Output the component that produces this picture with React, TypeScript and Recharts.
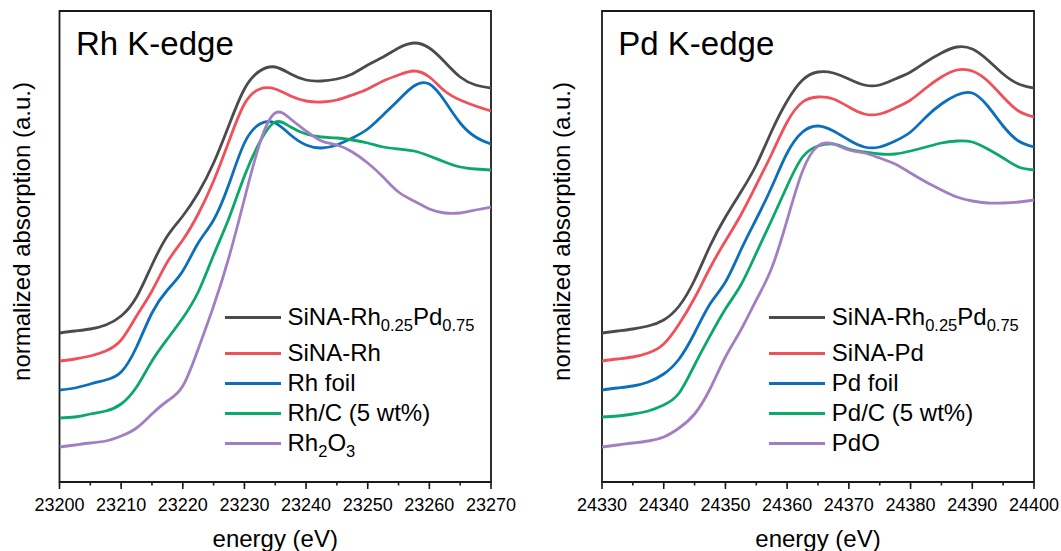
import { Legend, Line, LineChart, ReferenceArea, XAxis, YAxis } from "recharts";

const FONT = '"Liberation Sans", Arial, Helvetica, sans-serif';

// Rh K-edge panel
const rhEnergy = [
  23200, 23202.5, 23205, 23207.5, 23210, 23212.5, 23215, 23217.5, 23220, 23222.5, 23225, 23227.5, 23230, 23232.5, 23235,
  23237.5, 23240, 23242.5, 23245, 23247.5, 23250, 23252.5, 23255, 23257.5, 23260, 23262.5, 23265, 23267.5, 23270,
];
const rhSinaRhPd = [
  1.49, 1.51, 1.53, 1.57, 1.66, 1.85, 2.17, 2.46, 2.66, 2.89, 3.19, 3.57, 3.93, 4.11, 4.15, 4.08, 4.02, 4.01, 4.03, 4.08,
  4.17, 4.25, 4.34, 4.39, 4.34, 4.2, 4.05, 3.97, 3.94,
];
const rhSinaRh = [
  1.21, 1.23, 1.26, 1.31, 1.42, 1.66, 1.91, 2.2, 2.42, 2.68, 3.01, 3.41, 3.78, 3.93, 3.93, 3.86, 3.81, 3.8, 3.82, 3.87,
  3.93, 4.01, 4.07, 4.11, 4.05, 3.91, 3.82, 3.76, 3.71,
];
const rhFoil = [
  0.92, 0.94, 0.98, 1.02, 1.1, 1.35, 1.69, 1.92, 2.11, 2.39, 2.62, 2.98, 3.39, 3.58, 3.59, 3.47, 3.37, 3.34, 3.37, 3.44,
  3.53, 3.67, 3.82, 3.96, 3.98, 3.81, 3.59, 3.45, 3.38,
];
const rhOnCarbon = [
  0.64, 0.65, 0.68, 0.71, 0.78, 0.95, 1.21, 1.43, 1.64, 1.9, 2.27, 2.64, 3.06, 3.4, 3.6, 3.55, 3.48, 3.45, 3.44, 3.42,
  3.39, 3.35, 3.33, 3.31, 3.26, 3.2, 3.15, 3.13, 3.12,
];
const rhOxide = [
  0.35, 0.37, 0.39, 0.41, 0.46, 0.54, 0.68, 0.81, 0.96, 1.33, 1.76, 2.25, 2.83, 3.39, 3.69, 3.63, 3.51, 3.41, 3.37, 3.3,
  3.19, 3.05, 2.9, 2.81, 2.73, 2.69, 2.69, 2.72, 2.75,
];
const rhTicks = [23200, 23205, 23210, 23215, 23220, 23225, 23230, 23235, 23240, 23245, 23250, 23255, 23260, 23265, 23270];

// Pd K-edge panel
const pdEnergy = [
  24330, 24332.5, 24335, 24337.5, 24340, 24342.5, 24345, 24347.5, 24350, 24352.5, 24355, 24357.5, 24360, 24362.5, 24365,
  24367.5, 24370, 24372.5, 24375, 24377.5, 24380, 24382.5, 24385, 24387.5, 24390, 24392.5, 24395, 24397.5, 24400,
];
const pdSinaRhPd = [
  1.49, 1.51, 1.53, 1.56, 1.62, 1.76, 2.02, 2.36, 2.65, 2.9, 3.17, 3.51, 3.81, 4.02, 4.1, 4.09, 4.03, 3.97, 3.97, 4.03,
  4.1, 4.2, 4.29, 4.35, 4.33, 4.22, 4.08, 3.98, 3.94,
];
const pdSinaPd = [
  1.21, 1.23, 1.25, 1.29, 1.38, 1.58, 1.84, 2.14, 2.41, 2.67, 2.97, 3.28, 3.6, 3.8, 3.85, 3.83, 3.75, 3.68, 3.68, 3.74,
  3.82, 3.94, 4.05, 4.12, 4.11, 4.01, 3.85, 3.71, 3.65,
];
const pdFoil = [
  0.92, 0.94, 0.96, 1.0, 1.08, 1.23, 1.49, 1.78, 2.0, 2.32, 2.63, 2.95, 3.29, 3.5, 3.56, 3.51, 3.42, 3.35, 3.35, 3.41,
  3.5, 3.65, 3.78, 3.87, 3.89, 3.76, 3.56, 3.41, 3.35,
];
const pdOnCarbon = [
  0.65, 0.66, 0.68, 0.71, 0.77, 0.89, 1.17, 1.46, 1.73, 1.97, 2.29, 2.62, 2.96, 3.25, 3.36, 3.38, 3.33, 3.3, 3.28, 3.28,
  3.31, 3.35, 3.39, 3.41, 3.4, 3.33, 3.24, 3.15, 3.12,
];
const pdOxide = [
  0.35, 0.37, 0.39, 0.41, 0.45, 0.54, 0.68, 0.93, 1.25, 1.52, 1.82, 2.14, 2.62, 3.11, 3.36, 3.38, 3.32, 3.29, 3.24, 3.18,
  3.09, 3.0, 2.92, 2.85, 2.81, 2.79, 2.79, 2.8, 2.82,
];
const pdTicks = [24330, 24335, 24340, 24345, 24350, 24355, 24360, 24365, 24370, 24375, 24380, 24385, 24390, 24395, 24400];

const colors = ["#4b4b4b", "#f0505a", "#0b6fbb", "#0aa86a", "#a27fc2"];
const Y_MAX = 4.71;
const MINOR = 3.5;

function subscripted(name: string) {
  const parts = name.split(/(?<=[A-Za-z])(\d+(?:\.\d+)?)/);
  return parts.map((p, i) =>
    i % 2 === 1 ? (
      <span key={i} style={{ fontSize: 16.5, verticalAlign: "-6px", lineHeight: 0 }}>
        {p}
      </span>
    ) : (
      <span key={i}>{p}</span>
    )
  );
}

// y arrives MINOR px below the axis line (tickSize); majors get a longer tick + label
function EnergyTick(props: any) {
  const { x, y, payload } = props;
  const major = payload.value % 10 === 0;
  if (!major) return <g />;
  return (
    <g>
      <line x1={x} x2={x} y1={y - 1} y2={y + 7 - MINOR} stroke="#1a1a1a" strokeWidth={1.6} />
      <text x={x} y={y + 28.7 - MINOR} textAnchor="middle" fontSize={18} fontFamily={FONT} fill="#000">
        {payload.value}
      </text>
    </g>
  );
}

function LegendBox({ payload, order }: any) {
  const items = [...(payload ?? [])].sort((a: any, b: any) => order.indexOf(a.value) - order.indexOf(b.value));
  return (
    <div style={{ fontFamily: FONT }}>
      {items.map((entry: any, i: number) => (
        <div key={entry.value} style={{ display: "flex", alignItems: "center", height: 30, marginTop: i === 1 ? 6 : 0 }}>
          <span style={{ width: 56, height: 0, borderTop: `3px solid ${entry.color}`, marginRight: 6.5 }} />
          <span style={{ fontSize: 24, lineHeight: "30px", color: "#000", whiteSpace: "nowrap" }}>{subscripted(entry.value)}</span>
        </div>
      ))}
    </div>
  );
}

type PanelProps = {
  title: string;
  energy: number[];
  series: number[][];
  names: string[];
  ticks: number[];
  width: number;
  margin: { top: number; right: number; bottom: number; left: number };
  titleX: number;
  legendLeft: number;
};

function Panel({ title, energy, series, names, ticks, width, margin, titleX, legendLeft }: PanelProps) {
  const data = energy.map((e, i) => {
    const row: Record<string, number> = { energy: e };
    names.forEach((n, k) => (row[n] = series[k][i]));
    return row;
  });
  const lo = energy[0];
  const hi = energy[energy.length - 1];
  const plotCenter = margin.left + 1 + (width - margin.left - 1 - margin.right) / 2;

  return (
    <LineChart width={width} height={551} data={data} margin={margin}>
      <XAxis
        dataKey="energy"
        type="number"
        domain={[lo, hi]}
        ticks={ticks}
        interval={0}
        tick={<EnergyTick />}
        tickLine={{ stroke: "#1a1a1a", strokeWidth: 1.6 }}
        axisLine={false}
        tickSize={MINOR}
        tickMargin={0}
        height={30}
        allowDataOverflow
        label={
          <g>
            <text x={plotCenter} y={546.5} textAnchor="middle" fontSize={24} fontFamily={FONT} fill="#000">
              energy (eV)
            </text>
          </g>
        }
      />
      <YAxis
        type="number"
        domain={[0, Y_MAX]}
        width={1}
        tick={false}
        tickLine={false}
        axisLine={false}
        allowDataOverflow
        label={
          <g>
            <text
              x={21}
              y={231.5}
              transform="rotate(-90 21 231.5)"
              textAnchor="middle"
              dominantBaseline="central"
              fontSize={24}
              fontFamily={FONT}
              fill="#000"
            >
              normalized absorption (a.u.)
            </text>
            <text x={titleX} y={55} fontSize={33} fontFamily={FONT} fill="#000">
              {title}
            </text>
          </g>
        }
      />
      <ReferenceArea x1={lo} x2={hi} y1={0} y2={Y_MAX} fill="none" stroke="#1a1a1a" strokeWidth={1.8} ifOverflow="visible" />
      {names.map((n, k) => (
        <Line
          key={n}
          dataKey={n}
          name={n}
          type="natural"
          stroke={colors[k]}
          strokeWidth={2.8}
          dot={false}
          activeDot={false}
          isAnimationActive={false}
        />
      ))}
      <Legend
        layout="vertical"
        align="center"
        verticalAlign="middle"
        wrapperStyle={{ left: legendLeft, top: 302.3, width: "auto", height: "auto" }}
        content={<LegendBox order={names} />}
      />
    </LineChart>
  );
}

export default function App() {
  return (
    <div style={{ position: "absolute", left: 0, top: 0, width: 1061, height: 551, background: "#fff", overflow: "hidden" }}>
      <div style={{ position: "absolute", left: 0, top: 0 }}>
        <Panel
          title="Rh K-edge"
          energy={rhEnergy}
          series={[rhSinaRhPd, rhSinaRh, rhFoil, rhOnCarbon, rhOxide]}
          names={["SiNA-Rh0.25Pd0.75", "SiNA-Rh", "Rh foil", "Rh/C (5 wt%)", "Rh2O3"]}
          ticks={rhTicks}
          width={530}
          margin={{ top: 11, right: 39, bottom: 39, left: 58.5 }}
          titleX={76}
          legendLeft={225}
        />
      </div>
      <div style={{ position: "absolute", left: 540, top: 0 }}>
        <Panel
          title="Pd K-edge"
          energy={pdEnergy}
          series={[pdSinaRhPd, pdSinaPd, pdFoil, pdOnCarbon, pdOxide]}
          names={["SiNA-Rh0.25Pd0.75", "SiNA-Pd", "Pd foil", "Pd/C (5 wt%)", "PdO"]}
          ticks={pdTicks}
          width={521}
          margin={{ top: 11, right: 27, bottom: 39, left: 61 }}
          titleX={78.3}
          legendLeft={229.3}
        />
      </div>
    </div>
  );
}
